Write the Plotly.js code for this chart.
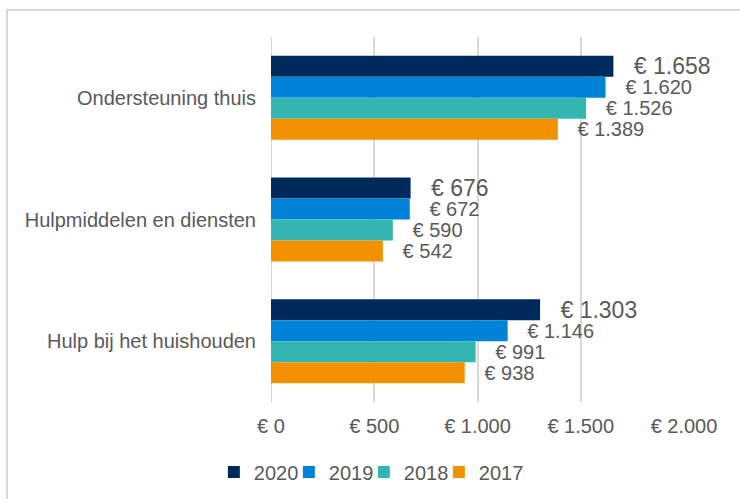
<!DOCTYPE html>
<html>
<head>
<meta charset="utf-8">
<script src="https://cdn.plot.ly/plotly-3.0.1.min.js"></script>
<style>
  html, body { margin: 0; padding: 0; background: #ffffff; }
  #frame { position: absolute; left: 6px; top: 9px; width: 760px; height: 520px; border: 2px solid #d9d9d9; box-sizing: border-box; }
  #chart { position: absolute; left: 0; top: 0; width: 740px; height: 499px; }
</style>
</head>
<body>
<div id="frame"></div>
<div id="chart"></div>
<script>
const categories = ['Ondersteuning thuis', 'Hulpmiddelen en diensten', 'Hulp bij het huishouden'];
const seriesNames = ['2020', '2019', '2018', '2017'];
const v2020 = [1658, 676, 1303];
const v2019 = [1620, 672, 1146];
const v2018 = [1526, 590, 991];
const v2017 = [1389, 542, 938];
const tickValues = [0, 500, 1000, 1500, 2000];
const tickLabels = ['€ 0', '€ 500', '€ 1.000', '€ 1.500', '€ 2.000'];

const colors = ['#002A5C', '#0082D6', '#33B6B1', '#F39200'];
const labelSizes = [23, 20, 20, 20];
const labelPads = ['\u00a0\u00a0\u2009', '\u00a0\u00a0\u00a0', '\u00a0\u00a0\u00a0', '\u00a0\u00a0\u00a0'];
const allValues = [v2020, v2019, v2018, v2017];

function fmt(v, pad) {
  return pad + '€ ' + String(v).replace(/\B(?=(\d{3})+(?!\d))/g, '.');
}

const traces = allValues.map((vals, i) => ({
  type: 'bar',
  orientation: 'h',
  name: seriesNames[i],
  y: categories,
  x: vals,
  text: vals.map(v => fmt(v, labelPads[i])),
  textposition: 'outside',
  constraintext: 'none',
  cliponaxis: false,
  textfont: { family: 'Liberation Sans, Arial, sans-serif', size: labelSizes[i], color: '#595959' },
  marker: { color: colors[i], line: { width: 0 } },
  hoverinfo: 'none'
}));

// invisible spacer entry on a hidden axis pair, so the last legend label is not clipped
traces.push({
  type: 'scatter', mode: 'markers', name: '\u00a0',
  x: [0], y: [0], xaxis: 'x2', yaxis: 'y2',
  marker: { color: 'rgba(0,0,0,0)', size: 1 },
  hoverinfo: 'none', showlegend: true
});

const layout = {
  width: 740,
  height: 499,
  margin: { l: 271, r: 56, t: 37, b: 97 },
  paper_bgcolor: 'rgba(0,0,0,0)',
  plot_bgcolor: 'rgba(0,0,0,0)',
  barmode: 'group',
  bargap: 0.31,
  bargroupgap: 0,
  font: { family: 'Liberation Sans, Arial, sans-serif', size: 20, color: '#595959' },
  showlegend: true,
  xaxis: {
    range: [0, 2000],
    tickvals: tickValues,
    ticktext: tickLabels,
    showgrid: true,
    gridcolor: '#d9d9d9',
    gridwidth: 2,
    zeroline: false,
    showline: false,
    ticks: '',
    ticklabelstandoff: 10,
    tickfont: { size: 20, color: '#595959' },
    fixedrange: true
  },
  yaxis: {
    type: 'category',
    autorange: 'reversed',
    showgrid: false,
    zeroline: false,
    showline: false,
    ticks: '',
    ticklabelstandoff: 14,
    tickfont: { size: 20, color: '#595959' },
    fixedrange: true
  },
  xaxis2: { overlaying: 'x', visible: false, range: [1, 2] },
  yaxis2: { overlaying: 'y', visible: false, range: [1, 2] },
  shapes: [{
    type: 'line', xref: 'x', yref: 'paper', x0: 0, x1: 0, y0: 0, y1: 1,
    line: { color: '#d9d9d9', width: 2 }, layer: 'below'
  }],
  legend: {
    orientation: 'h',
    xref: 'container', yref: 'container',
    x: 0.289, xanchor: 'left',
    y: 0.054, yanchor: 'middle',
    entrywidth: 30,
    entrywidthmode: 'pixels',
    font: { size: 20, color: '#595959' },
    bgcolor: 'rgba(0,0,0,0)',
    traceorder: 'normal'
  }
};

Plotly.newPlot('chart', traces, layout, { staticPlot: true, displayModeBar: false });
</script>
</body>
</html>
